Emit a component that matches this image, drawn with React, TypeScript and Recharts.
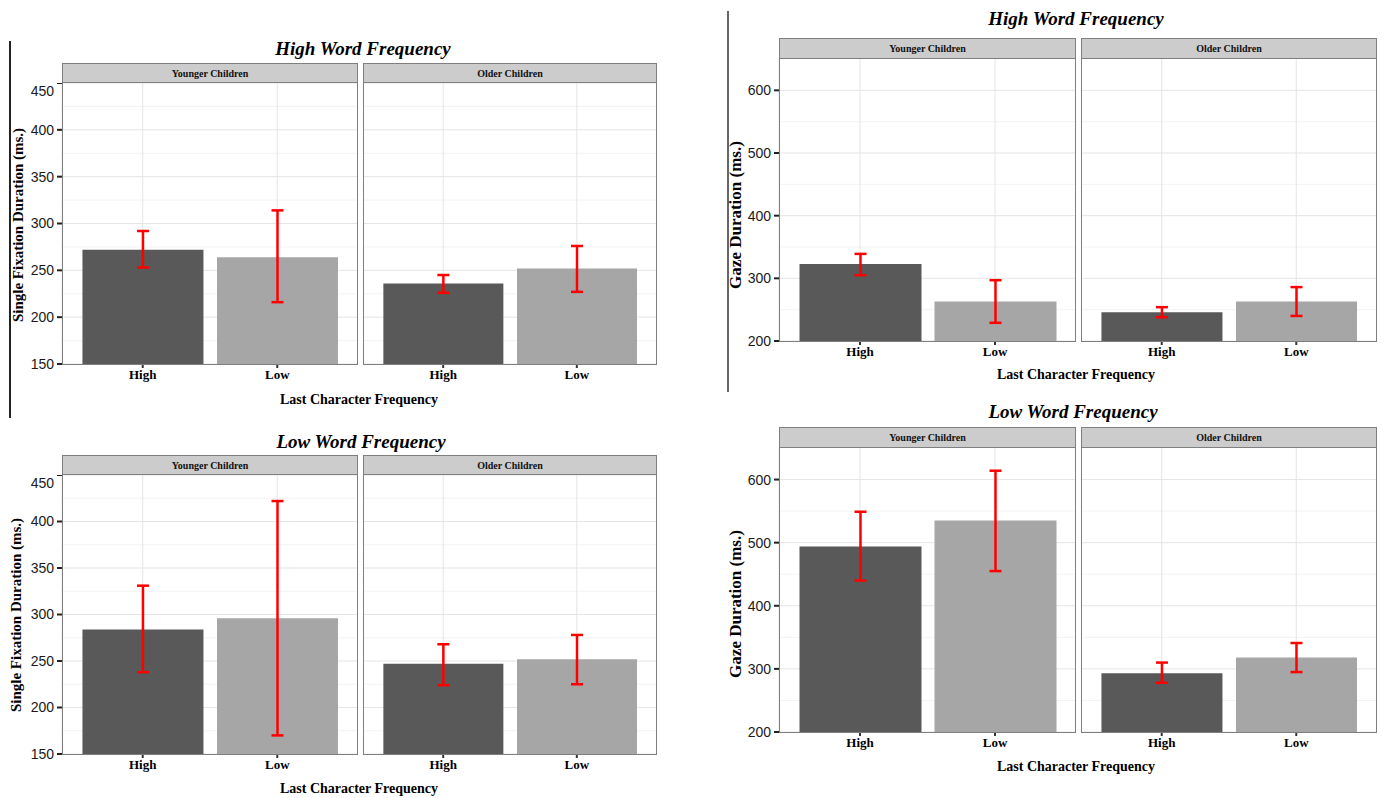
import { BarChart, Bar, XAxis, YAxis, CartesianGrid, Cell, ErrorBar } from 'recharts';

const categories = ['High', 'Low'];
const groups = ['Younger Children', 'Older Children'];

// order: Younger High, Younger Low, Older High, Older Low
const sfdHighWfMean = [272, 264, 236, 252];
const sfdHighWfLower = [253, 216, 226, 227];
const sfdHighWfUpper = [292, 314, 245, 276];

const sfdLowWfMean = [284, 296, 247, 252];
const sfdLowWfLower = [238, 170, 224, 225];
const sfdLowWfUpper = [331, 422, 268, 278];

const gazeHighWfMean = [323, 263, 246, 263];
const gazeHighWfLower = [305, 229, 238, 240];
const gazeHighWfUpper = [339, 297, 254, 286];

const gazeLowWfMean = [494, 535, 293, 318];
const gazeLowWfLower = [440, 455, 278, 295];
const gazeLowWfUpper = [549, 614, 310, 341];

const sfdDomain = [150, 450];
const sfdTicks = [150, 200, 250, 300, 350, 400, 450];
const sfdMinor = [175, 225, 275, 325, 375, 425];
const gazeDomain = [200, 650];
const gazeTicks = [200, 300, 400, 500, 600];
const gazeMinor = [250, 350, 450, 550];

const BAR_COLORS = ['#595959', '#a6a6a6'];
const BORDER = '#7f7f7f';
const SERIF = '"Liberation Serif", "Times New Roman", serif';
const SANS = '"Liberation Sans", Arial, sans-serif';
const Y_W = 50;

function facetRows(mean: number[], lower: number[], upper: number[], g: number) {
  return categories.map((cat, i) => {
    const k = g * 2 + i;
    return { cat, mean: mean[k], err: [mean[k] - lower[k], upper[k] - mean[k]] };
  });
}

type FacetProps = {
  rows: { cat: string; mean: number; err: number[] }[];
  left: number;
  right: number;
  stripTop: number;
  plotTop: number;
  plotBottom: number;
  showY: boolean;
  label: string;
  domain: number[];
  ticks: number[];
  minor: number[];
};

function Facet({ rows, left, right, stripTop, plotTop, plotBottom, showY, label, domain, ticks, minor }: FacetProps) {
  const width = right - left;
  const height = plotBottom - plotTop;
  const yW = showY ? Y_W : 0;
  const unit = width / 2.2;
  const pad = unit * 0.1;
  return (
    <>
      <div
        style={{
          position: 'absolute',
          left,
          top: stripTop,
          width,
          height: plotTop - stripTop,
          boxSizing: 'border-box',
          background: '#cccccc',
          border: `1.5px solid ${BORDER}`,
          fontFamily: SERIF,
          fontWeight: 'bold',
          fontSize: 10,
          display: 'flex',
          alignItems: 'center',
          justifyContent: 'center',
          color: '#111',
        }}
      >
        {label}
      </div>
      <div style={{ position: 'absolute', left: left - yW, top: plotTop }}>
        <BarChart width={width + yW} height={height + 30} data={rows} margin={{ top: 0, right: 0, bottom: 0, left: 0 }}>
          <CartesianGrid horizontalValues={minor} vertical={false} stroke="#f3f3f3" strokeWidth={1} />
          <CartesianGrid horizontalValues={ticks} stroke="#e5e5e5" strokeWidth={1} />
          <XAxis
            dataKey="cat"
            interval={0}
            height={30}
            padding={{ left: pad, right: pad }}
            axisLine={false}
            tickLine={{ stroke: '#333', strokeWidth: 2 }}
            tickSize={4}
            tickMargin={2}
            tick={{ fontFamily: SERIF, fontWeight: 'bold', fontSize: 13, fill: '#000' }}
          />
          <YAxis
            hide={!showY}
            width={yW}
            type="number"
            domain={domain}
            ticks={ticks}
            allowDataOverflow
            axisLine={false}
            tickLine={{ stroke: '#222', strokeWidth: 2 }}
            tickSize={5}
            tickMargin={3}
            tick={{ fontFamily: SANS, fontSize: 14, fill: '#1a1a1a' }}
          />
          <Bar dataKey="mean" barSize={Math.round(unit * 0.9)} isAnimationActive={false}>
            {rows.map((r, i) => (
              <Cell key={r.cat} fill={BAR_COLORS[i]} />
            ))}
            <ErrorBar dataKey="err" direction="y" width={6} stroke="#ff0000" strokeWidth={2.5} isAnimationActive={false} />
          </Bar>
        </BarChart>
      </div>
      <div
        style={{
          position: 'absolute',
          left,
          top: plotTop - 1,
          width,
          height: height + 1.5,
          boxSizing: 'border-box',
          border: `1.5px solid ${BORDER}`,
          pointerEvents: 'none',
        }}
      />
    </>
  );
}

type PanelProps = {
  title: string;
  yTitle: string;
  yTitleSize: number;
  mean: number[];
  lower: number[];
  upper: number[];
  domain: number[];
  ticks: number[];
  minor: number[];
  xs: number[][];
  stripTop: number;
  plotTop: number;
  plotBottom: number;
  titleX: number;
  titleY: number;
  xTitleX: number;
  xTitleY: number;
  yTitleX: number;
  yTitleY: number;
};

function Text({ x, y, size, italic, rotate, children }: { x: number; y: number; size: number; italic?: boolean; rotate?: boolean; children: string }) {
  return (
    <div
      style={{
        position: 'absolute',
        left: x,
        top: y,
        transform: `translate(-50%, -50%)${rotate ? ' rotate(-90deg)' : ''}`,
        whiteSpace: 'nowrap',
        fontFamily: SERIF,
        fontWeight: 'bold',
        fontStyle: italic ? 'italic' : 'normal',
        fontSize: size,
        color: '#000',
        lineHeight: 1,
      }}
    >
      {children}
    </div>
  );
}

function Panel(p: PanelProps) {
  return (
    <>
      <Text x={p.titleX} y={p.titleY} size={19} italic>
        {p.title}
      </Text>
      {groups.map((g, gi) => (
        <Facet
          key={g}
          rows={facetRows(p.mean, p.lower, p.upper, gi)}
          left={p.xs[gi][0]}
          right={p.xs[gi][1]}
          stripTop={p.stripTop}
          plotTop={p.plotTop}
          plotBottom={p.plotBottom}
          showY={gi === 0}
          label={g}
          domain={p.domain}
          ticks={p.ticks}
          minor={p.minor}
        />
      ))}
      <Text x={p.xTitleX} y={p.xTitleY} size={14}>
        Last Character Frequency
      </Text>
      <Text x={p.yTitleX} y={p.yTitleY} size={p.yTitleSize} rotate>
        {p.yTitle}
      </Text>
    </>
  );
}

const LEFT_XS = [
  [62, 358],
  [363, 657],
];
const RIGHT_XS = [
  [779, 1076],
  [1081, 1377],
];

export default function App() {
  return (
    <div style={{ position: 'absolute', left: 0, top: 0, width: 1387, height: 798, background: '#fff', overflow: 'hidden' }}>
      <div style={{ position: 'absolute', left: 9, top: 41, width: 1.5, height: 377, background: '#222' }} />
      <div style={{ position: 'absolute', left: 727, top: 11, width: 1.5, height: 381, background: '#666' }} />
      <Panel
        title="High Word Frequency"
        yTitle="Single Fixation Duration (ms.)"
        yTitleSize={15}
        mean={sfdHighWfMean}
        lower={sfdHighWfLower}
        upper={sfdHighWfUpper}
        domain={sfdDomain}
        ticks={sfdTicks}
        minor={sfdMinor}
        xs={LEFT_XS}
        stripTop={63}
        plotTop={83}
        plotBottom={364}
        titleX={363}
        titleY={48}
        xTitleX={359}
        xTitleY={400}
        yTitleX={18}
        yTitleY={225}
      />
      <Panel
        title="High Word Frequency"
        yTitle="Gaze Duration (ms.)"
        yTitleSize={17}
        mean={gazeHighWfMean}
        lower={gazeHighWfLower}
        upper={gazeHighWfUpper}
        domain={gazeDomain}
        ticks={gazeTicks}
        minor={gazeMinor}
        xs={RIGHT_XS}
        stripTop={38}
        plotTop={59}
        plotBottom={341}
        titleX={1076}
        titleY={18}
        xTitleX={1076}
        xTitleY={375}
        yTitleX={735}
        yTitleY={215}
      />
      <Panel
        title="Low Word Frequency"
        yTitle="Single Fixation Duration (ms.)"
        yTitleSize={15}
        mean={sfdLowWfMean}
        lower={sfdLowWfLower}
        upper={sfdLowWfUpper}
        domain={sfdDomain}
        ticks={sfdTicks}
        minor={sfdMinor}
        xs={LEFT_XS}
        stripTop={455}
        plotTop={475}
        plotBottom={754}
        titleX={361}
        titleY={441}
        xTitleX={359}
        xTitleY={789}
        yTitleX={16}
        yTitleY={615}
      />
      <Panel
        title="Low Word Frequency"
        yTitle="Gaze Duration (ms.)"
        yTitleSize={17}
        mean={gazeLowWfMean}
        lower={gazeLowWfLower}
        upper={gazeLowWfUpper}
        domain={gazeDomain}
        ticks={gazeTicks}
        minor={gazeMinor}
        xs={RIGHT_XS}
        stripTop={427}
        plotTop={448}
        plotBottom={732}
        titleX={1073}
        titleY={411}
        xTitleX={1076}
        xTitleY={767}
        yTitleX={735}
        yTitleY={604}
      />
    </div>
  );
}
